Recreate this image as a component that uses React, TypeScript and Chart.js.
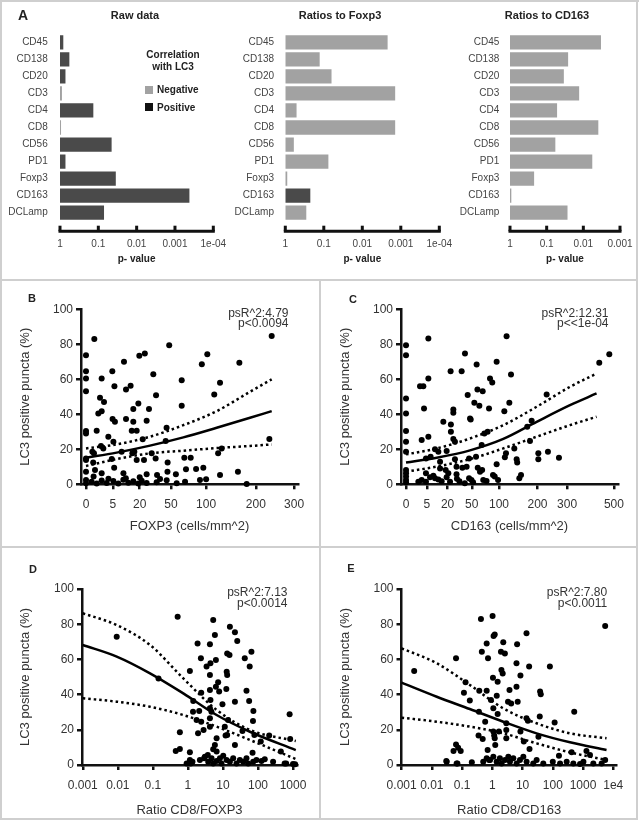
import React, { useEffect, useRef } from "react";
import { Chart, registerables } from "chart.js";
Chart.register(...registerables);

const FONT = "'Liberation Sans', Arial, Helvetica, sans-serif";
Chart.defaults.font.family = FONT;

// ---------- Panel A data ----------
const categories = ["CD45", "CD138", "CD20", "CD3", "CD4", "CD8", "CD56", "PD1", "Foxp3", "CD163", "DCLamp"];
const rawDataP = [0.82, 0.57, 0.72, 0.89, 0.135, 0.94, 0.045, 0.72, 0.035, 0.00042, 0.071];
const rawDataSign = [1, 1, 1, -1, 1, -1, 1, 1, 1, 1, 1];
const ratioFoxp3P = [0.0022, 0.128, 0.063, 0.0014, 0.51, 0.0014, 0.6, 0.076, 0.89, 0.224, 0.285];
const ratioFoxp3Sign = [-1, -1, -1, -1, -1, -1, -1, -1, -1, 1, -1];
const ratioCD163P = [0.0033, 0.026, 0.034, 0.013, 0.052, 0.0039, 0.058, 0.0057, 0.22, 0.92, 0.027];
const ratioCD163Sign = [-1, -1, -1, -1, -1, -1, -1, -1, -1, -1, -1];
const pTicks4 = [1, 0.1, 0.01, 0.001, 0.0001];
const pTickLabels4 = ["1", "0.1", "0.01", "0.001", "1e-04"];
const pTicks3 = [1, 0.1, 0.01, 0.001];
const pTickLabels3 = ["1", "0.1", "0.01", "0.001"];

// ---------- Panel B: FOXP3 density vs LC3 ----------
const foxp3VsLc3: number[][] = [
  [0.48, 83], [239, 84.8], [48, 79.5], [102, 74.3], [0, 73.8], [24, 74.7], [19.7, 73.4], [10, 70], [163, 69.4], [93, 68.6],
  [0, 64.6], [4.8, 64.6], [0, 60.5], [1.7, 60.5], [31.4, 62.9], [63.5, 59.5], [124.5, 58], [5.6, 56.1], [13.8, 56.3], [11.1, 54.2],
  [0, 53.2], [114, 51.3], [34, 50.9], [1.36, 49.4], [2.25, 47.1], [19, 46.2], [63.5, 44.9], [1.05, 40.5], [1.7, 41.8], [15.5, 43],
  [27.5, 43], [0, 30.4], [0, 29.1], [0.79, 30.6], [11.1, 37.3], [4.9, 37.3], [5.8, 35.7], [15.5, 35.7], [14.5, 30.6], [17.8, 30.6],
  [25.5, 36.3], [45, 32.3], [3.46, 27.2], [22.3, 25.7], [5.2, 24.3], [44, 24.7], [233, 25.9], [1.56, 21.9], [2.08, 20.5], [0.28, 18.6],
  [0.44, 17.7], [16.2, 18.6], [14.9, 17.7], [8.8, 18.6], [29.9, 17.7], [127.6, 20.5], [121, 17.7], [0, 14.8], [0, 13.9], [4.6, 14.4],
  [17.8, 13.9], [23.3, 13.9], [33.6, 14.8], [67, 15.2], [76, 15.2], [46.2, 12.5], [0.36, 12.4], [0, 7.2], [0.56, 8.2], [5.5, 9.5],
  [46, 7.2], [69.3, 8.6], [84, 8.7], [95.4, 9.5], [160, 7.2], [1.7, 6.3], [9.7, 6.3], [25.5, 5.7], [35, 5.3], [56, 5.7],
  [124.5, 5.3], [90, 2.5], [100, 2.9], [179, 0.2], [0, 2.5], [0, 0.6], [0.22, 1.5], [0.79, 0.5], [1.7, 2.2], [2.96, 0.8],
  [5.18, 1.9], [7.25, 0.4], [9.66, 2.6], [12.4, 0.9], [15.5, 1.8], [19, 0.5], [21.5, 2.1], [25.5, 0.7], [34.6, 1.2], [45.1, 2.3],
  [57, 0.6], [68, 1.4], [11, 3.5], [3.5, 3.2], [0.4, 4.4], [20, 4], [38, 3],
];
const foxp3CurveX = [0, 6.5, 28.4, 65.7, 118.4, 186.5, 239];
const foxp3Fit = [15.2, 18.1, 22.1, 26.8, 32.3, 38, 41.8];
const foxp3Upper = [20.5, 22.8, 27.2, 33.8, 41.8, 52.9, 60];
const foxp3Lower = [10.5, 14.4, 17.7, 19.2, 20.7, 21.9, 22.8];
const foxp3Ticks = [0, 5, 20, 50, 100, 200, 300];
const foxp3Note = ["psR^2:4.79", "p<0.0094"];

// ---------- Panel C: CD163 density vs LC3 ----------
const cd163VsLc3: number[][] = [
  [0, 79.5], [0, 73.8], [0, 49], [0, 40.5], [0, 30.4], [0, 24.3], [0, 18.6], [0, 8.2], [0, 6.3], [0, 4.4], [0, 2.5], [0, 1.1],
  [5.77, 83.3], [5.77, 60.5], [2.27, 56.1], [3.47, 56.1], [3.75, 43.3], [2.84, 25.3], [5.77, 27.2], [4.6, 14.8], [4.6, 6.3], [4.6, 1.5],
  [9.7, 20], [7, 15.8], [12.1, 18.6], [13.4, 12.9], [13.4, 9.1],
  [1.76, 1.5], [2.84, 2.5], [6.66, 4], [8.64, 4.9], [9.72, 3.4], [12.1, 2.8], [14.7, 1.7], [19.1, 4], [22.4, 1.5],
  [16.1, 35.7], [19.1, 19], [18.2, 8.2], [20.7, 6.3], [23, 64.6], [23.3, 34.2], [23.3, 30], [25.9, 42.8], [25.9, 40.9], [25.9, 25.9],
  [27.7, 24.3], [27.7, 14.3], [29.5, 10], [29.5, 5.7], [35.8, 64.6], [36.7, 9.5], [40.2, 74.7], [42.5, 10], [44, 51], [47.4, 37.6],
  [48.4, 37.1], [46, 14.8], [46, 3.4], [49.5, 2.5], [54, 46.6], [57.7, 68.4], [59, 54.2], [62.2, 44.9], [56.7, 15.8], [59.5, 9.5],
  [63.3, 7.2], [66.2, 22.4], [68, 53.2], [67, 8.2], [69, 2.5], [71, 29], [77, 30], [79.7, 43.3], [81.6, 60.5], [86, 58.2],
  [87.5, 5.3], [91, 4.4], [95, 70], [95, 11.4], [98, 2.5], [111.8, 41.8], [115.6, 17.7], [113, 15.4], [117, 84.6], [123.5, 46.6],
  [127.5, 62.7], [135.7, 20.5], [141.6, 14.3], [143, 12.4], [148.5, 3.4], [153, 5.3], [170, 32.9], [177.8, 24.7], [182.6, 36.3],
  [202.5, 17.7], [202.5, 14.3], [228.8, 51.3], [233, 18.6], [270.6, 15.2], [432, 69.4], [478, 74.3],
  [33, 1.8], [40, 0.6], [52, 1.2], [75, 1.9], [30, 3.2],
];
const cd163CurveX = [0, 10.9, 47.4, 109.5, 197.4, 311, 420];
const cd163Fit = [12.4, 15.2, 19.4, 25.9, 35.7, 45.2, 51.9];
const cd163Upper = [17.1, 20.5, 26.2, 33.8, 44.3, 55.7, 63.3];
const cd163Lower = [7.2, 10.1, 14.4, 20.5, 27.2, 33.8, 38.6];
const cd163Ticks = [0, 5, 20, 50, 100, 200, 300, 500];
const cd163Note = ["psR^2:12.31", "p<<1e-04"];

// ---------- Panel D: ratio CD8/FOXP3 vs LC3 ----------
const cd8Foxp3VsLc3: number[][] = [
  [0.0093, 72.9], [0.145, 49.2], [0.51, 84.3], [0.45, 8], [0.59, 9.1], [0.59, 18.6], [1.14, 53.4], [1.14, 7.2], [1.14, 2.8], [1.2, 0.9],
  [1.35, 1.9], [1.42, 36.4], [1.4, 30.3], [1.77, 25.6], [1.89, 69.1], [1.95, 18], [2.1, 30.7], [2.35, 60.6], [2.4, 41.1], [2.4, 24.6],
  [2.8, 19.9], [2.9, 3.8], [3.41, 55.9], [3.7, 5.7], [4.25, 68.6], [4.4, 57.8], [4.25, 51.1], [4.25, 42.6], [4.4, 36.9], [4.25, 32.2],
  [4.7, 30.3], [4.25, 26.5], [4.25, 21.8], [5.28, 82.4], [5.9, 73.9], [6.3, 59.7], [6.3, 44.5], [7.3, 47], [7.8, 41.7], [6.6, 15.2],
  [5.9, 11.4], [5.28, 9], [6.6, 7.6], [9.7, 34.5], [11.9, 16.7], [11.3, 21.8], [14, 25.6], [15.8, 78.6], [15.4, 62.5], [13.2, 63.4],
  [12.8, 53], [13.2, 51.1], [12.5, 43.2], [13.2, 17], [22, 75.4], [25.6, 70.5], [22, 36], [22, 11.4], [36, 19.3], [42, 60.6],
  [47, 42.2], [56, 36.4], [58, 55.9], [65, 64.4], [72, 25], [74, 30.7], [79, 17], [70, 7], [120, 13.3], [209, 16.7],
  [450, 7.6], [800, 28.8], [830, 14.8], [640, 0.9], [1150, 0.4],
  [0.92, 0.9], [1.27, 1.5], [2.2, 2.8], [3.05, 4.7], [3.8, 1.9], [4.73, 3.8], [5.28, 0.9], [6.58, 2.3], [8.2, 3.8], [9.1, 0.9],
  [10.2, 5.3], [12.7, 2.8], [15.8, 1.9], [19.6, 3.8], [24.4, 0.9], [30.4, 2.8], [37.8, 1.9], [47, 3.8], [52.5, 0.9], [73, 1.9],
  [90.6, 2.8], [126, 2.3], [156, 3.2], [270, 1.9], [577, 0.9], [1000, 0.6],
];
const cd8Foxp3CurveX = [0.001, 0.0093, 0.083, 0.74, 6.6, 59, 1200];
const cd8Foxp3Fit = [68.2, 61.6, 52.1, 40.7, 28.4, 18.9, 8.5];
const cd8Foxp3Upper = [86.2, 79.5, 68.2, 49.2, 31.3, 19.9, 13.6];
const cd8Foxp3Lower = [37.9, 36, 33.1, 28.4, 21.8, 14.2, 3.4];
const cd8Foxp3Ticks = [0.001, 0.01, 0.1, 1, 10, 100, 1000];
const cd8Foxp3TickLabels = ["0.001", "0.01", "0.1", "1", "10", "100", "1000"];
const cd8Foxp3Note = ["psR^2:7.13", "p<0.0014"];

// ---------- Panel E: ratio CD8/CD163 vs LC3 ----------
const cd8Cd163VsLc3: number[][] = [
  [0.0026, 53.4], [0.03, 2.3], [0.063, 60.6], [0.063, 11.7], [0.052, 8], [0.074, 9.8], [0.09, 8], [0.07, 0.9], [0.115, 41.1], [0.13, 47],
  [0.18, 36.6], [0.37, 42.2], [0.36, 30.3], [0.35, 16.7], [0.45, 64.4], [0.42, 82.9], [0.48, 14.8], [0.58, 24.6], [0.65, 69.1], [0.65, 42.2],
  [0.7, 8.5], [0.72, 60.6], [0.78, 2.8], [0.9, 36.9], [1.02, 84.7], [1.05, 49.6], [1.08, 32.2], [1.1, 73.3], [1.2, 74.2], [1.08, 19],
  [1.15, 16.7], [1.2, 15.2], [1.25, 11.4], [1.4, 39.4], [1.5, 47.3], [1.5, 29], [1.65, 19], [1.93, 64.4], [2.0, 54], [2.2, 52],
  [2.3, 69.7], [2.6, 63.4], [2.9, 23.7], [2.9, 15.2], [2.9, 19.9], [3.3, 36], [4.2, 35], [3.7, 42.6], [6.3, 57.8], [6.3, 44.5],
  [6.6, 68.6], [6.9, 36], [8.5, 50.8], [8.5, 19], [11, 13.3], [13.5, 74.8], [13.5, 26.5], [15, 25.2], [16.5, 55.9], [17, 9.1],
  [38, 41.7], [40, 40.2], [37, 27.5], [33.5, 16.1], [80, 55.9], [115, 24.2], [160, 5.3], [512, 30.3], [420, 7.2], [1300, 8],
  [1700, 5.7], [5400, 79], [5400, 2.8],
  [0.031, 1.9], [0.066, 0.9], [0.21, 1.5], [0.5, 1.9], [0.65, 3.8], [0.84, 2.8], [1.08, 4.7], [1.39, 1.9], [1.78, 3.8], [2.03, 0.9],
  [2.62, 2.8], [3.38, 4.7], [3.83, 1.9], [4.94, 3.8], [6.37, 0.9], [8.2, 2.8], [10.6, 4.7], [13.6, 1.9], [22.6, 0.9], [29.2, 2.8],
  [48.5, 0.9], [100, 1.9], [174, 0.9], [288, 1.9], [478, 0.9], [795, 0.6], [1030, 1.9], [2190, 0.9], [4120, 0.9],
];
const cd8Cd163CurveX = [0.001, 0.0145, 0.18, 2.3, 29, 370, 6000];
const cd8Cd163Fit = [46.8, 38.8, 31.8, 24.6, 18, 12.9, 8.5];
const cd8Cd163Upper = [66.3, 57.8, 45.5, 32.2, 23.7, 18, 15.2];
const cd8Cd163Lower = [26.9, 24.6, 21.8, 18, 12.3, 7.2, 2.8];
const cd8Cd163Ticks = [0.001, 0.01, 0.1, 1, 10, 100, 1000, 10000];
const cd8Cd163TickLabels = ["0.001", "0.01", "0.1", "1", "10", "100", "1000", "1e4"];
const cd8Cd163Note = ["psR^2:7.80", "p<0.0011"];

const lc3Ticks = [0, 20, 40, 60, 80, 100];

// ---------- styling ----------
const DARK = "#4a4a4a";
const LIGHT = "#a2a2a2";
const AXIS = "#111111";
const TEXT = "#333333";

type Box = { left: number; top: number; width: number; height: number };
type Area = { l: number; t: number; r: number; b: number };

function fixedLayout(box: Box, area: Area) {
  return {
    padding: { left: 0, top: area.t - box.top, right: box.left + box.width - area.r, bottom: 0 },
    yWidth: area.l - box.left,
    xHeight: box.top + box.height - area.b,
  };
}
const fitX = (h: number) => (s: any) => {
  s.height = h;
  s.paddingLeft = 0;
  s.paddingRight = 0;
};
const fitY = (w: number) => (s: any) => {
  s.width = w;
  s.paddingTop = 0;
  s.paddingBottom = 0;
};

// p-value axis with inward ticks (panel A)
const pAxisPlugin = {
  id: "pAxis",
  afterDraw(chart: any, _a: any, opts: any) {
    const sc = chart.scales.x;
    const ctx = chart.ctx;
    const y = chart.chartArea.bottom + opts.gap;
    const xs = sc.ticks.map((t: any) => sc.getPixelForValue(t.value));
    const x0 = Math.min(...xs);
    const x1 = Math.max(...xs);
    ctx.save();
    ctx.strokeStyle = AXIS;
    ctx.lineWidth = opts.width;
    ctx.beginPath();
    ctx.moveTo(x0 - opts.width / 2, y);
    ctx.lineTo(x1 + opts.width / 2, y);
    ctx.stroke();
    for (const x of xs) {
      ctx.beginPath();
      ctx.moveTo(x, y);
      ctx.lineTo(x, y - opts.len);
      ctx.stroke();
    }
    ctx.restore();
  },
};

// statistics note in top-right corner of chart area
const notePlugin = {
  id: "cornerNote",
  afterDatasetsDraw(chart: any, _a: any, opts: any) {
    if (!opts || !opts.lines) return;
    const { ctx, chartArea } = chart;
    ctx.save();
    ctx.font = `${opts.size}px ${FONT}`;
    ctx.fillStyle = TEXT;
    ctx.textAlign = "right";
    ctx.textBaseline = "middle";
    opts.lines.forEach((t: string, i: number) =>
      ctx.fillText(t, chartArea.right - opts.dx, chartArea.top + opts.dy + i * opts.gap)
    );
    ctx.restore();
  },
};

function barConfig(box: Box, area: Area, p: number[], sign: number[], ticks: number[], labels: string[], catPad: number) {
  const lay = fixedLayout(box, area);
  const neg = categories.map((_, i) => (sign[i] < 0 ? [1, p[i]] : null));
  const pos = categories.map((_, i) => (sign[i] > 0 ? [1, p[i]] : null));
  const common = { grouped: false, barPercentage: 0.84, categoryPercentage: 1, borderWidth: 0 };
  return {
    type: "bar",
    data: {
      labels: categories,
      datasets: [
        { label: "Negative", data: neg, backgroundColor: LIGHT, ...common },
        { label: "Positive", data: pos, backgroundColor: DARK, ...common },
      ],
    },
    plugins: [pAxisPlugin],
    options: {
      indexAxis: "y",
      animation: false,
      responsive: false,
      events: [],
      layout: { padding: lay.padding },
      plugins: { legend: { display: false }, tooltip: { enabled: false }, pAxis: { gap: 10, len: 5.5, width: 3 } },
      scales: {
        x: {
          type: "logarithmic",
          reverse: true,
          min: ticks[ticks.length - 1],
          max: 1,
          afterBuildTicks: (s: any) => {
            s.ticks = ticks.map((v) => ({ value: v }));
          },
          afterFit: fitX(lay.xHeight),
          grid: { display: false, drawTicks: false },
          border: { display: false },
          ticks: {
            autoSkip: false,
            maxRotation: 0,
            minRotation: 0,
            padding: 16.8,
            color: "#444",
            font: { size: 10 },
            callback: (_v: any, i: number) => labels[i],
          },
          title: {
            display: true,
            text: "p- value",
            color: "#222",
            font: { size: 10, weight: "bold" },
            padding: { top: 0, bottom: 15 },
          },
        },
        y: {
          type: "category",
          afterFit: fitY(lay.yWidth),
          grid: { display: false, drawTicks: false },
          border: { display: false },
          ticks: { autoSkip: false, padding: catPad, color: "#444", font: { size: 10 } },
        },
      },
    },
  };
}

function scatterConfig(o: {
  box: Box;
  area: Area;
  points: number[][];
  curveX: number[];
  fit: number[];
  upper: number[];
  lower: number[];
  sqrt: boolean;
  xMin: number;
  xMax: number;
  xTicks: number[];
  xLabels: string[];
  xTitle: string;
  xTitlePad: number;
  note: string[];
}) {
  const lay = fixedLayout(o.box, o.area);
  const tx = (v: number) => (o.sqrt ? Math.sqrt(v) : v);
  const curve = (ys: number[]) => o.curveX.map((x, i) => ({ x: tx(x), y: ys[i] }));
  const lineDs = (ys: number[], dash: number[]) => ({
    type: "scatter",
    data: curve(ys),
    showLine: true,
    borderColor: "#000",
    borderWidth: 2.5,
    borderDash: dash,
    borderCapStyle: "butt",
    pointRadius: 0,
    cubicInterpolationMode: "monotone",
    fill: false,
    clip: false,
  });
  const axisGrid = {
    display: true,
    drawOnChartArea: false,
    drawTicks: true,
    tickLength: 5,
    lineWidth: 2.5,
    color: AXIS,
    tickColor: AXIS,
  };
  const axisBorder = { display: true, width: 2.5, color: AXIS };
  return {
    type: "scatter",
    data: {
      datasets: [
        {
          data: o.points.map((p) => ({ x: tx(p[0]), y: p[1] })),
          pointRadius: 3,
          pointBackgroundColor: "#000",
          pointBorderWidth: 0,
          clip: false,
        },
        lineDs(o.fit, []),
        lineDs(o.upper, [2.5, 3]),
        lineDs(o.lower, [2.5, 3]),
      ],
    },
    plugins: [notePlugin],
    options: {
      animation: false,
      responsive: false,
      events: [],
      layout: { padding: lay.padding },
      plugins: {
        legend: { display: false },
        tooltip: { enabled: false },
        cornerNote: { lines: o.note, size: 12, dx: 9.5, dy: 4, gap: 10.5 },
      },
      scales: {
        x: {
          type: o.sqrt ? "linear" : "logarithmic",
          min: o.xMin,
          max: o.xMax,
          afterBuildTicks: (s: any) => {
            s.ticks = o.xTicks.map((v) => ({ value: tx(v) }));
          },
          afterFit: fitX(lay.xHeight),
          grid: axisGrid,
          border: axisBorder,
          ticks: {
            autoSkip: false,
            maxRotation: 0,
            minRotation: 0,
            padding: 8.5,
            color: TEXT,
            font: { size: 12 },
            callback: (_v: any, i: number) => o.xLabels[i],
          },
          title: { display: true, text: o.xTitle, color: TEXT, font: { size: 13 }, padding: { top: 0, bottom: o.xTitlePad } },
        },
        y: {
          type: "linear",
          min: 0,
          max: 100,
          afterBuildTicks: (s: any) => {
            s.ticks = lc3Ticks.map((v) => ({ value: v }));
          },
          afterFit: fitY(lay.yWidth),
          grid: axisGrid,
          border: axisBorder,
          ticks: { padding: 3, color: TEXT, font: { size: 12 } },
          title: {
            display: true,
            text: "LC3 positive puncta (%)",
            color: TEXT,
            font: { size: 13 },
            padding: { top: 15.2, bottom: 0 },
          },
        },
      },
    },
  };
}

function ChartBox({ box, make }: { box: Box; make: () => any }) {
  const ref = useRef<HTMLCanvasElement>(null);
  useEffect(() => {
    const chart = new Chart(ref.current as HTMLCanvasElement, make());
    return () => chart.destroy();
  }, []);
  return (
    <canvas
      ref={ref}
      width={box.width}
      height={box.height}
      style={{ position: "absolute", left: box.left, top: box.top, width: box.width, height: box.height }}
    />
  );
}

function T({ x, y, s, size, bold, color = "#222", align = "center" }: any) {
  const tx = align === "center" ? "-50%" : align === "right" ? "-100%" : "0";
  return (
    <div
      style={{
        position: "absolute",
        left: x,
        top: y,
        transform: `translate(${tx}, -50%)`,
        font: `${bold ? "bold " : ""}${size}px ${FONT}`,
        lineHeight: 1,
        color,
        whiteSpace: "nowrap",
      }}
    >
      {s}
    </div>
  );
}

function Line({ l, t, w, h }: { l: number; t: number; w: number; h: number }) {
  return <div style={{ position: "absolute", left: l, top: t, width: w, height: h, background: "#cfcfcf" }} />;
}

const boxA1: Box = { left: 0, top: 0, width: 232, height: 280 };
const boxA2: Box = { left: 215, top: 0, width: 240, height: 280 };
const boxA3: Box = { left: 440, top: 0, width: 196, height: 280 };
const boxB: Box = { left: 2, top: 281, width: 317, height: 266 };
const boxC: Box = { left: 322, top: 281, width: 315, height: 266 };
const boxD: Box = { left: 2, top: 548, width: 317, height: 271 };
const boxE: Box = { left: 322, top: 548, width: 315, height: 271 };

export default function App() {
  return (
    <div style={{ position: "absolute", left: 0, top: 0, width: 641, height: 824, background: "#fff", overflow: "hidden" }}>
      <Line l={0} t={0} w={639} h={2} />
      <Line l={0} t={0} w={2} h={820} />
      <Line l={636} t={0} w={2} h={820} />
      <Line l={0} t={818} w={638} h={2} />
      <Line l={0} t={279} w={638} h={2} />
      <Line l={0} t={546} w={638} h={2} />
      <Line l={319} t={280} w={2} h={540} />

      <ChartBox
        box={boxA1}
        make={() => barConfig(boxA1, { l: 60, t: 33.8, r: 213.3, b: 221.2 }, rawDataP, rawDataSign, pTicks4, pTickLabels4, 12.3)}
      />
      <ChartBox
        box={boxA2}
        make={() => barConfig(boxA2, { l: 285.3, t: 33.8, r: 439.3, b: 221.2 }, ratioFoxp3P, ratioFoxp3Sign, pTicks4, pTickLabels4, 11.3)}
      />
      <ChartBox
        box={boxA3}
        make={() => barConfig(boxA3, { l: 510, t: 33.8, r: 620, b: 221.2 }, ratioCD163P, ratioCD163Sign, pTicks3, pTickLabels3, 10.7)}
      />
      <ChartBox
        box={boxB}
        make={() =>
          scatterConfig({
            box: boxB,
            area: { l: 81, t: 309.3, r: 298, b: 484.3 },
            points: foxp3VsLc3,
            curveX: foxp3CurveX,
            fit: foxp3Fit,
            upper: foxp3Upper,
            lower: foxp3Lower,
            sqrt: true,
            xMin: -0.416,
            xMax: 17.65,
            xTicks: foxp3Ticks,
            xLabels: foxp3Ticks.map(String),
            xTitle: "FOXP3 (cells/mm^2)",
            xTitlePad: 13.2,
            note: foxp3Note,
          })
        }
      />
      <ChartBox
        box={boxC}
        make={() =>
          scatterConfig({
            box: boxC,
            area: { l: 401, t: 309.3, r: 618, b: 484.3 },
            points: cd163VsLc3,
            curveX: cd163CurveX,
            fit: cd163Fit,
            upper: cd163Upper,
            lower: cd163Lower,
            sqrt: true,
            xMin: -0.54,
            xMax: 22.8,
            xTicks: cd163Ticks,
            xLabels: cd163Ticks.map(String),
            xTitle: "CD163 (cells/mm^2)",
            xTitlePad: 13.2,
            note: cd163Note,
          })
        }
      />
      <ChartBox
        box={boxD}
        make={() =>
          scatterConfig({
            box: boxD,
            area: { l: 82, t: 589, r: 297, b: 765 },
            points: cd8Foxp3VsLc3,
            curveX: cd8Foxp3CurveX,
            fit: cd8Foxp3Fit,
            upper: cd8Foxp3Upper,
            lower: cd8Foxp3Lower,
            sqrt: false,
            xMin: 0.00095,
            xMax: 1300,
            xTicks: cd8Foxp3Ticks,
            xLabels: cd8Foxp3TickLabels,
            xTitle: "Ratio CD8/FOXP3",
            xTitlePad: 1.2,
            note: cd8Foxp3Note,
          })
        }
      />
      <ChartBox
        box={boxE}
        make={() =>
          scatterConfig({
            box: boxE,
            area: { l: 401.5, t: 589, r: 616.7, b: 765 },
            points: cd8Cd163VsLc3,
            curveX: cd8Cd163CurveX,
            fit: cd8Cd163Fit,
            upper: cd8Cd163Upper,
            lower: cd8Cd163Lower,
            sqrt: false,
            xMin: 0.00099,
            xMax: 13000,
            xTicks: cd8Cd163Ticks,
            xLabels: cd8Cd163TickLabels,
            xTitle: "Ratio CD8/CD163",
            xTitlePad: 1.2,
            note: cd8Cd163Note,
          })
        }
      />

      <T x={23} y={15} s="A" size={14} bold />
      <T x={135} y={15} s="Raw data" size={11} bold />
      <T x={340} y={15} s="Ratios to Foxp3" size={11} bold />
      <T x={547} y={15} s="Ratios to CD163" size={11} bold />
      <T x={173} y={55} s="Correlation" size={10} bold />
      <T x={173} y={67} s="with LC3" size={10} bold />
      <div style={{ position: "absolute", left: 145, top: 85.5, width: 8, height: 8, background: LIGHT }} />
      <T x={157} y={90} s="Negative" size={10} bold align="left" />
      <div style={{ position: "absolute", left: 145, top: 103, width: 8, height: 8, background: "#111" }} />
      <T x={157} y={108} s="Positive" size={10} bold align="left" />

      <T x={32} y={298} s="B" size={11} bold />
      <T x={353} y={299} s="C" size={11} bold />
      <T x={33} y={569} s="D" size={11} bold />
      <T x={351} y={568} s="E" size={11} bold />
    </div>
  );
}
